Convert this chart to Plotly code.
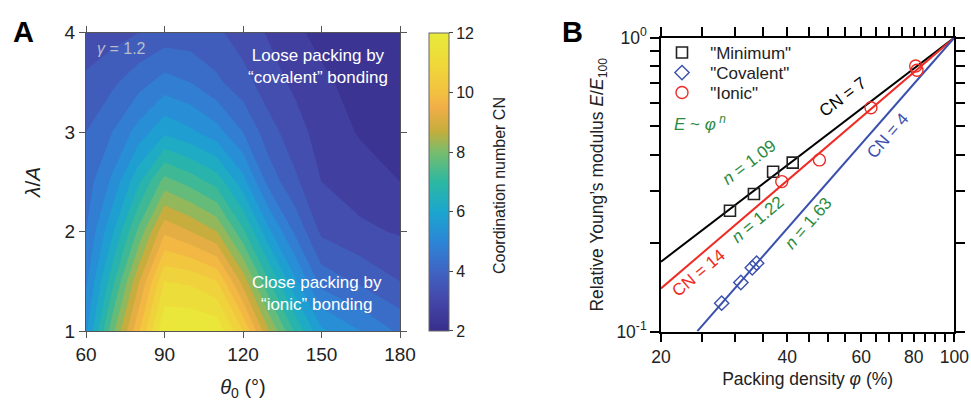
import numpy as np
import plotly.graph_objects as go

# ---------------- Panel A data ----------------
theta0 = [60, 70, 80, 90, 100, 110, 120, 130, 140, 150, 165, 180]
lam_over_A = [1.0, 1.5, 2.0, 2.5, 3.0, 3.5, 4.0]
cn_lam_1_0 = [5.4, 7.8, 9.9, 12.0, 12.0, 11.9, 10.5, 8.5, 6.9, 5.6, 5.0, 4.4]
cn_lam_1_5 = [4.9, 6.8, 8.9, 11.0, 10.9, 10.5, 8.8, 7.0, 5.6, 4.3, 3.9, 3.5]
cn_lam_2_0 = [4.5, 5.9, 7.6, 9.4, 9.0, 8.5, 7.1, 5.6, 4.4, 3.4, 3.1, 2.95]
cn_lam_2_5 = [4.25, 5.1, 6.4, 7.7, 7.3, 6.8, 5.7, 4.3, 3.6, 3.0, 2.75, 2.5]
cn_lam_3_0 = [4.0, 4.5, 5.2, 5.9, 5.6, 5.2, 4.5, 3.7, 3.2, 2.8, 2.45, 2.3]
cn_lam_3_5 = [3.6, 3.9, 4.3, 4.7, 4.5, 4.1, 3.7, 3.2, 2.9, 2.6, 2.3, 2.15]
cn_lam_4_0 = [3.2, 3.3, 3.5, 3.7, 3.7, 3.6, 3.25, 2.95, 2.6, 2.35, 2.15, 2.0]
cn_grid = [cn_lam_1_0, cn_lam_1_5, cn_lam_2_0, cn_lam_2_5, cn_lam_3_0, cn_lam_3_5, cn_lam_4_0]
theta_ticks = [60, 90, 120, 150, 180]
lam_ticks = [1, 2, 3, 4]
cbar_ticks = [2, 4, 6, 8, 10, 12]

# ---------------- Panel B data ----------------
minimum_phi = [29.2, 33.3, 37.0, 41.2]
minimum_E = [0.258, 0.294, 0.350, 0.376]
covalent_phi = [27.9, 31.0, 33.0, 33.8]
covalent_E = [0.125, 0.147, 0.165, 0.171]
ionic_phi = [38.8, 47.7, 63.3, 80.9, 81.5]
ionic_E = [0.324, 0.384, 0.578, 0.801, 0.775]
fit_names = ["Minimum", "Ionic", "Covalent"]
fit_n = [1.09, 1.22, 1.63]
phi_major = [20, 40, 60, 80, 100]
phi_minor = [25, 30, 35, 45, 50, 55, 65, 70, 75, 85, 90, 95]
E_major = [0.1, 1]
E_major_text = ["10<sup>-1</sup>", "10<sup>0</sup>"]
E_minor = [0.2, 0.3, 0.4, 0.5, 0.6, 0.7, 0.8, 0.9]

W, H = 971, 402
FONT = "Liberation Sans, Arial, Helvetica, sans-serif"
GREEN = "#2b8a3e"
RED = "#ee2b25"
BLUE = "#3a50ad"

parula = [
    [0.00, "#382e8c"], [0.10, "#4446a8"], [0.20, "#3f64c3"], [0.30, "#2c86d7"],
    [0.40, "#1ba6cf"], [0.50, "#2cb8a2"], [0.60, "#78bd6d"], [0.67, "#c4ad3c"],
    [0.75, "#f2ae48"], [0.80, "#f3c140"], [0.90, "#efd93a"], [1.00, "#e8ea3a"],
]

def px(x):
    return x / W

def py(y):
    return 1 - y / H

fig = go.Figure()

fig.add_trace(go.Contour(
    x=theta0, y=lam_over_A, z=cn_grid,
    colorscale=parula, zmin=2, zmax=12,
    contours=dict(start=2, end=12, size=0.5, coloring="fill", showlines=False),
    line=dict(width=0, smoothing=0), showscale=False, xaxis="x", yaxis="y", hoverinfo="skip",
))
# continuous colour bar
fig.add_trace(go.Scatter(
    x=[theta0[0]], y=[lam_over_A[0]], mode="markers", xaxis="x", yaxis="y",
    marker=dict(size=1, opacity=0, color=[2], cmin=2, cmax=12, colorscale=parula,
                showscale=True,
                colorbar=dict(x=px(429), xanchor="left", y=py(181.9), yanchor="middle",
                              len=298.3, lenmode="pixels", thickness=20, thicknessmode="pixels",
                              outlinewidth=1, outlinecolor="#666", tickvals=cbar_ticks,
                              ticks="outside", ticklen=4, tickcolor="#444",
                              tickfont=dict(size=16, color="#222", family=FONT),
                              xpad=0, ypad=0)),
    showlegend=False, hoverinfo="skip",
))

# Panel B fit lines
phi_line = np.linspace(20, 100, 200)
line_colors = {"Minimum": "black", "Ionic": RED, "Covalent": BLUE}
for name, n in zip(fit_names, fit_n):
    E_line = (phi_line / 100.0) ** n
    keep = E_line >= 0.0999
    fig.add_trace(go.Scatter(x=phi_line[keep], y=E_line[keep], mode="lines",
                             line=dict(color=line_colors[name], width=2),
                             xaxis="x2", yaxis="y2", showlegend=False, hoverinfo="skip"))

SP = "\u00a0\u2009"
fig.add_trace(go.Scatter(x=minimum_phi, y=minimum_E, mode="markers", name=SP + '"Minimum"',
                         marker=dict(symbol="square-open", size=11, color="#222", line=dict(width=1.6)),
                         xaxis="x2", yaxis="y2", legend="legend"))
fig.add_trace(go.Scatter(x=covalent_phi, y=covalent_E, mode="markers", name=SP + '"Covalent"',
                         marker=dict(symbol="diamond-open", size=11, color=BLUE, line=dict(width=1.4)),
                         xaxis="x2", yaxis="y2", legend="legend2"))
fig.add_trace(go.Scatter(x=ionic_phi, y=ionic_E, mode="markers", name=SP + '"Ionic"',
                         marker=dict(symbol="circle-open", size=12, color=RED, line=dict(width=1.4)),
                         xaxis="x2", yaxis="y2", legend="legend3"))

axA = dict(showline=True, linecolor="#555", linewidth=1, mirror="ticks", ticks="outside",
           ticklen=6, tickcolor="#555", showgrid=False, zeroline=False, automargin=False,
           tickfont=dict(size=19, color="#222", family=FONT))
axB = dict(showline=True, linecolor="black", linewidth=1.5, mirror="ticks", ticks="outside",
           ticklen=9, tickwidth=1.5, tickcolor="black", showgrid=False, zeroline=False,
           automargin=False, type="log", tickfont=dict(size=17.5, color="#222", family=FONT))

leg = dict(xanchor="left", yanchor="top", bgcolor="rgba(0,0,0,0)",
           font=dict(size=17, color="#222", family=FONT))

fig.update_layout(
    width=W, height=H, margin=dict(l=0, r=0, t=0, b=0),
    template="none", paper_bgcolor="white", plot_bgcolor="white",
    font=dict(family=FONT, color="#222"),
    xaxis=dict(axA, domain=[px(86), px(400)], range=[60, 180], tickvals=theta_ticks,
               anchor="y", title=dict(text="<i>θ</i><sub>0</sub> (°)", font=dict(size=20), standoff=16)),
    yaxis=dict(axA, domain=[py(331), py(32.7)], range=[1, 4], tickvals=lam_ticks,
               anchor="x", title=dict(text="<i>λ</i>/<i>A</i>", font=dict(size=21), standoff=18)),
    xaxis2=dict(axB, domain=[px(661), px(954.3)], range=[np.log10(20), 2], tickvals=phi_major,
                minor=dict(tickvals=phi_minor, ticklen=9, ticks="outside", tickcolor="black", tickwidth=1.5),
                anchor="y2", title=dict(text="Packing density <i>φ</i> (%)", font=dict(size=17.5), standoff=6)),
    yaxis2=dict(axB, domain=[py(331.7), py(37.7)], range=[-1, 0], tickvals=E_major,
                ticktext=E_major_text,
                minor=dict(tickvals=E_minor, ticklen=9, ticks="outside", tickcolor="black", tickwidth=1.5),
                anchor="x2", title=dict(text="Relative Young’s modulus <i>E</i>/<i>E</i><sub>100</sub>",
                                        font=dict(size=17.5), standoff=8)),
    legend=dict(leg, x=px(662), y=py(35)),
    legend2=dict(leg, x=px(662), y=py(55)),
    legend3=dict(leg, x=px(662), y=py(75)),
)

annots = [
    dict(text="<b>A</b>", x=px(23), y=py(32), font=dict(size=29, color="black")),
    dict(text="<b>B</b>", x=px(572), y=py(32), font=dict(size=29, color="black")),
    dict(text="<i>γ</i> = 1.2", x=px(122), y=py(49), font=dict(size=16, color="#b9bccb")),
    dict(text="Loose packing by<br>“covalent” bonding", x=px(318), y=py(67),
         font=dict(size=17, color="white")),
    dict(text="Close packing by<br>“ionic” bonding", x=px(317), y=py(293),
         font=dict(size=17, color="white")),
    dict(text="Coordination number CN", x=px(499), y=py(186), textangle=-90,
         font=dict(size=16, color="#222")),
    dict(text="CN = 7", x=px(842), y=py(97), textangle=-37, font=dict(size=17, color="black")),
    dict(text="CN = 4", x=px(887), y=py(136), textangle=-49, font=dict(size=17, color=BLUE)),
    dict(text="CN = 14", x=px(698), y=py(273), textangle=-40, font=dict(size=17, color=RED)),
    dict(text="<i>n</i> = 1.09", x=px(749), y=py(162), textangle=-37, font=dict(size=17, color=GREEN)),
    dict(text="<i>n</i> = 1.22", x=px(758), y=py(220), textangle=-40, font=dict(size=17, color=GREEN)),
    dict(text="<i>n</i> = 1.63", x=px(808), y=py(223), textangle=-49, font=dict(size=17, color=GREEN)),
    dict(text="<i>E</i> ~ <i>φ</i><sup> <i>n</i></sup>", x=px(700), y=py(123), font=dict(size=17, color=GREEN)),
]
for a in annots:
    a.update(xref="paper", yref="paper", showarrow=False, xanchor="center", yanchor="middle")
    a["font"].setdefault("family", FONT)
    fig.add_annotation(**a)

fig.write_html("out.html", config={"displayModeBar": False},
               post_script="document.body.style.margin='0';document.body.style.overflow='hidden';")
